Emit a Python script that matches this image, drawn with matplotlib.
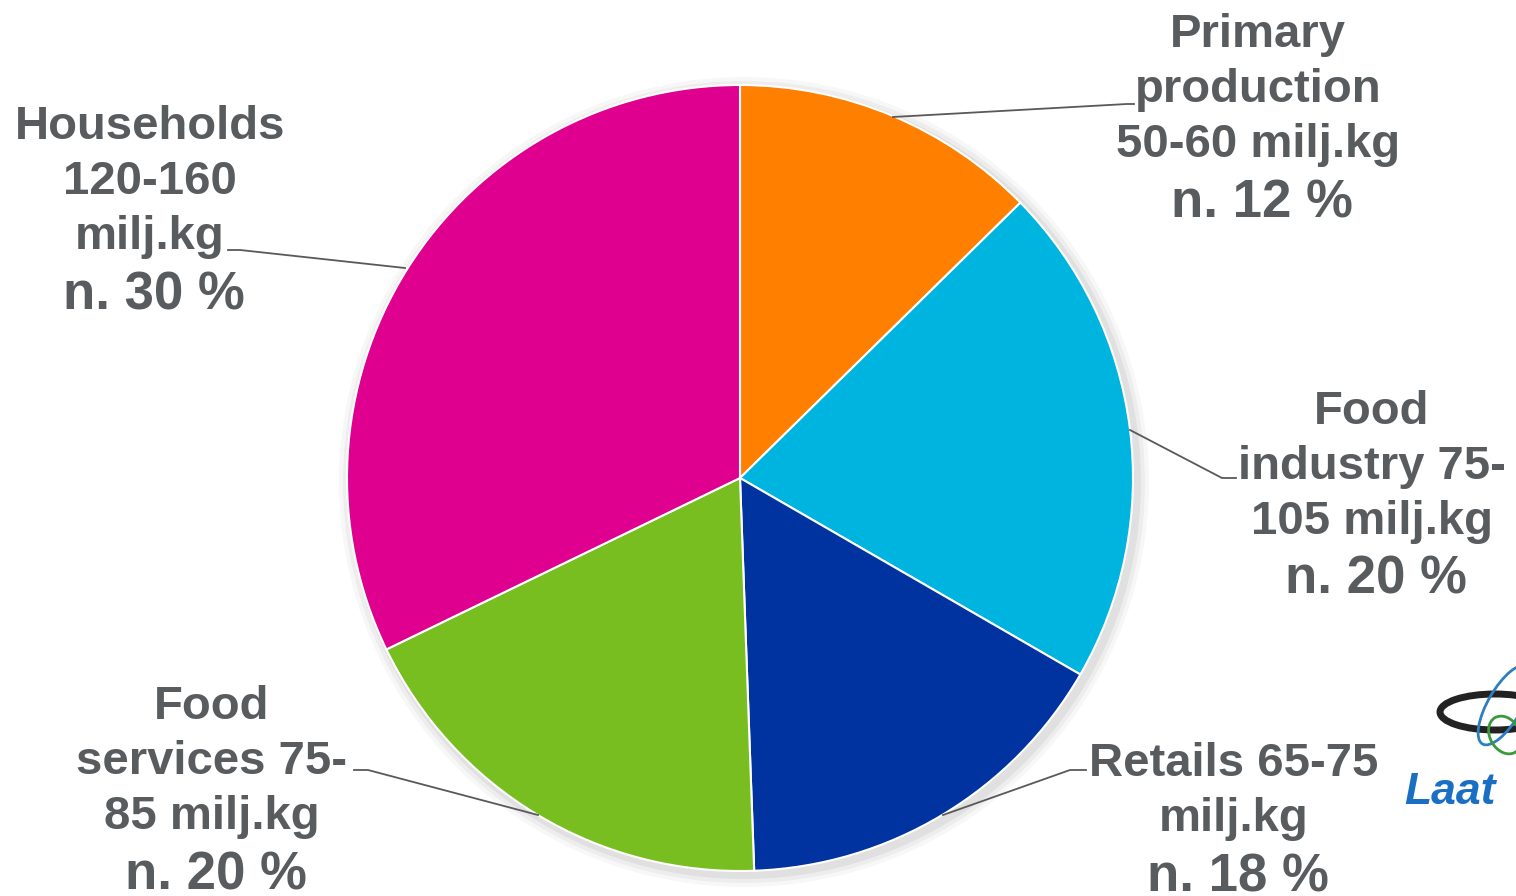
import matplotlib
matplotlib.use("Agg")
import matplotlib.pyplot as plt
from matplotlib.patches import Ellipse

# data (midpoints of ranges in milj.kg) — clockwise from 12 o'clock
sectors = ["Primary production", "Food industry", "Retails", "Food services", "Households"]
values = [55, 90, 70, 80, 140]
colors = ["#FF8000", "#00B4E0", "#0033A0", "#78BE20", "#E0008F"]

label_lines = [
    ["Primary", "production", "50-60 milj.kg"],
    ["Food", "industry 75-", "105 milj.kg"],
    ["Retails 65-75", "milj.kg"],
    ["Food", "services 75-", "85 milj.kg"],
    ["Households", "120-160", "milj.kg"],
]
share_text = ["n. 12 %", "n. 20 %", "n. 18 %", "n. 20 %", "n. 30 %"]

# layout in pixel coords (y from top)
W, H = 1516, 896
center = (740, 478)
radius = 393
label_x = [1258, 1372, 1234, 212, 150]
label_y0 = [35, 412, 764, 707, 127]
line_step = 55
leaders = [
    [(893, 117), (1127, 104), (1134, 104)],
    [(1130, 430), (1222, 478), (1236, 478)],
    [(943, 815), (1070, 770), (1086, 770)],
    [(538, 815), (368, 770), (354, 770)],
    [(405, 268), (240, 250), (228, 250)],
]
TXT = "#595C5F"
FONT = "Liberation Sans"

fig = plt.figure(figsize=(W / 100, H / 100), dpi=100)
ax = fig.add_axes([0, 0, 1, 1])
ax.set_xlim(0, W); ax.set_ylim(0, H)
ax.set_aspect("equal"); ax.axis("off")

def fy(y):
    return H - y

# soft shadow behind the pie
for k, a in enumerate([0.05, 0.04, 0.03]):
    ax.add_patch(Ellipse((center[0] + 4, fy(center[1]) - 4), 2 * (radius + 4 + 4 * k),
                         2 * (radius + 4 + 4 * k), color="#000000", alpha=a, lw=0, zorder=0))

ax.pie(values, colors=colors, startangle=90, counterclock=False,
       center=(center[0], fy(center[1])), radius=radius, frame=True,
       wedgeprops={"edgecolor": "white", "linewidth": 1.5})
ax.set_xlim(0, W); ax.set_ylim(0, H); ax.axis("off")

for i in range(len(sectors)):
    y = label_y0[i]
    for line in label_lines[i]:
        ax.text(label_x[i], fy(y), line, ha="center", va="center", fontsize=34,
                fontweight="bold", color=TXT, family=FONT)
        y += line_step
    ax.text(label_x[i] + 4, fy(y + 3), share_text[i], ha="center", va="center", fontsize=38,
            fontweight="bold", color=TXT, family=FONT)
    xs = [p[0] for p in leaders[i]]
    ys = [fy(p[1]) for p in leaders[i]]
    ax.plot(xs, ys, color="#595959", lw=1.3)

# partial logo at right edge
ax.add_patch(Ellipse((1495, fy(712)), 110, 36, fill=False, ec="#222222", lw=5))
ax.add_patch(Ellipse((1505, fy(705)), 34, 90, angle=-30, fill=False, ec="#2E7FC0", lw=2))
ax.add_patch(Ellipse((1505, fy(735)), 30, 40, angle=30, fill=False, ec="#3A9A3A", lw=2))
ax.text(1404, fy(792), "Laat", ha="left", va="center", fontsize=32, fontweight="bold",
        fontstyle="italic", color="#1A6FC4", family=FONT)

fig.savefig("out.png", dpi=100)
